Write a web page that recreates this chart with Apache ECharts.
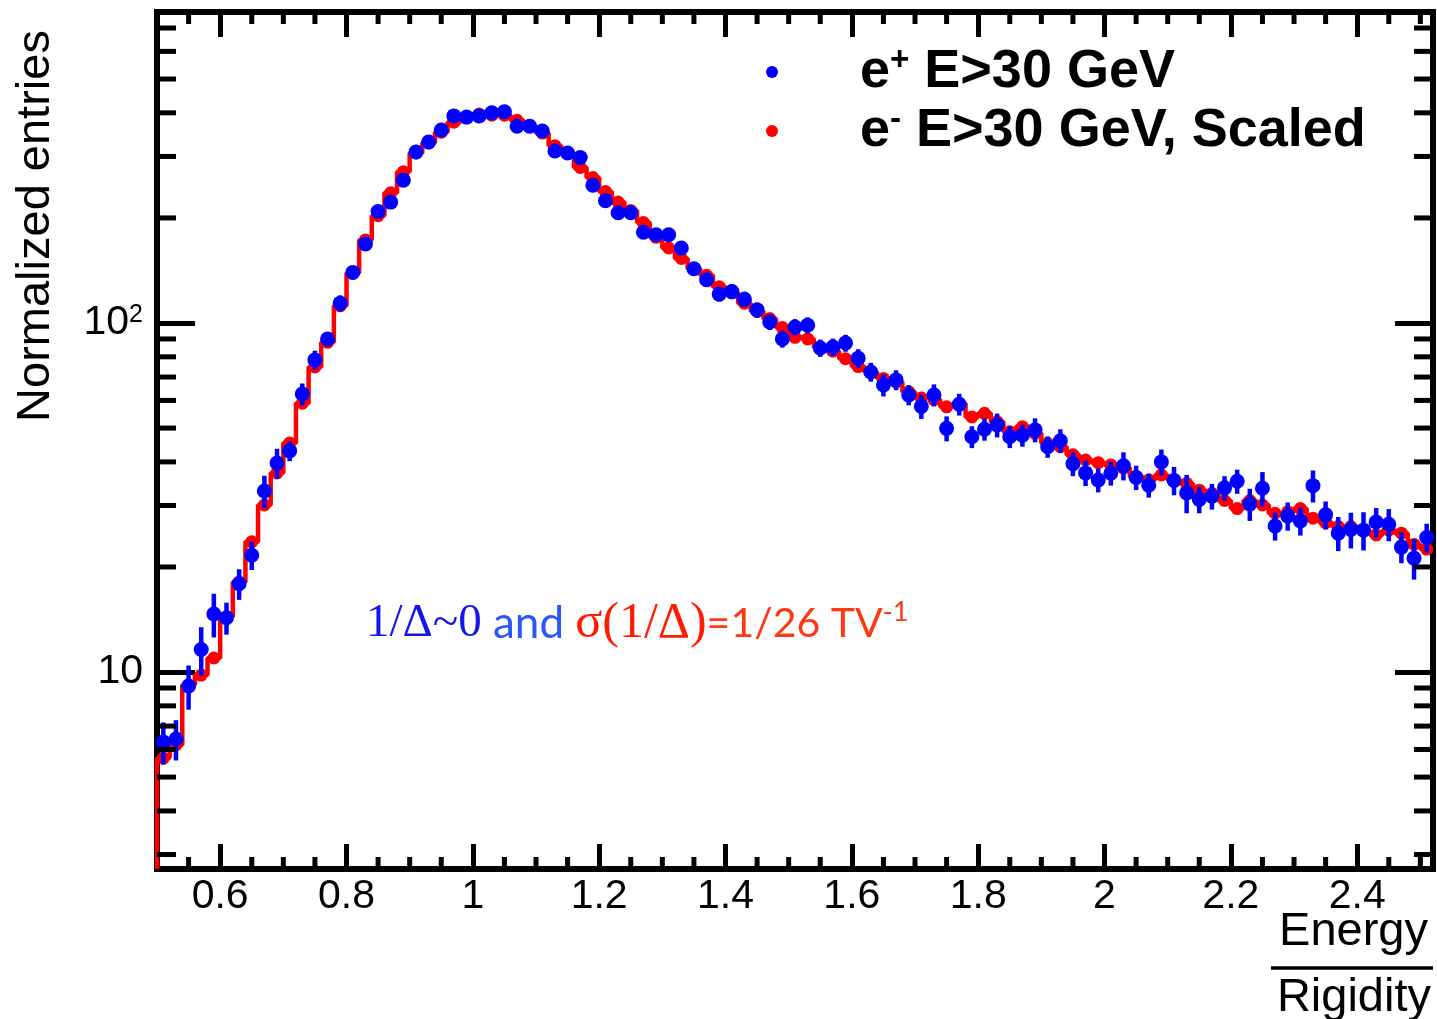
<!DOCTYPE html>
<html>
<head>
<meta charset="utf-8">
<script src="https://cdn.jsdelivr.net/npm/echarts@6/dist/echarts.min.js"></script>
<style>
html,body{margin:0;padding:0;background:#fff;}
#chart{width:1437px;height:1019px;}
</style>
</head>
<body>
<div id="chart"></div>
<script>
// ---- histogram binning (101 bins of width 0.02 starting at 0.5) ----
const binStart = 0.5;
const binWidth = 0.02;

// ---- e+ E>30 GeV (blue points) ----
const positronValues = [
  6.30, 6.43, 9.12, 11.6, 14.66, 14.3, 17.9, 21.6, 33.0, 39.7,
  43.0, 62.6, 78.4, 90.0, 114, 139.6, 168.5, 208.6, 222, 256.6,
  308.8, 330, 357, 392, 389, 392, 400, 403, 366, 366,
  355, 311, 307, 298, 248, 224, 207, 207, 182, 179,
  179, 164, 143, 133, 121, 123, 117, 109, 100.7, 90,
  97.4, 98.6, 84.8, 85.3, 87.6, 79.3, 72.4, 66.4, 68.7, 62.2,
  57.7, 62.2, 49.9, 58.5, 47.2, 49.6, 51.0, 47.2, 47.7, 49.4,
  44.2, 46.0, 39.5, 37.2, 35.5, 37.1, 39.0, 36.1, 34.3, 40.0,
  35.4, 32.6, 31.2, 31.9, 33.7, 35.2, 30.3, 33.6, 26.2, 28.0,
  27.1, 34.2, 28.2, 25.0, 25.6, 25.5, 26.9, 26.5, 22.8, 21.2,
  24.3
];
const positronErrors = [
  0.87, 0.85, 1.32, 1.84, 2.1, 1.5, 1.8, 2.0, 3.5, 3.9,
  2.8, 4.5, 4.9, 4.2, 6.0, 4.6, 5.6, 6.7, 7.1, 7.7,
  9.3, 9.9, 10.7, 11.8, 11.7, 11.8, 12, 12.1, 11, 11.7,
  11.4, 10.6, 10.4, 10.4, 8.9, 8.3, 7.9, 7.9, 7.3, 7.2,
  7.2, 6.9, 6.4, 6.1, 5.8, 5.9, 5.9, 5.5, 5.2, 5.0,
  5.2, 5.2, 4.8, 4.9, 4.9, 4.8, 4.5, 4.8, 4.5, 4.1,
  4.6, 4.5, 4.1, 4.2, 3.4, 3.6, 4.0, 3.4, 3.5, 3.9,
  3.1, 3.6, 3.1, 3.1, 2.8, 2.9, 3.6, 2.9, 2.7, 3.4,
  3.3, 4.1, 2.7, 2.7, 2.7, 2.8, 3.2, 3.8, 2.4, 2.6,
  2.5, 3.6, 2.6, 2.8, 3.0, 3.2, 2.6, 2.8, 2.3, 2.8,
  2.3
];

// ---- e- E>30 GeV, scaled (red histogram) ----
const electronValues = [
  5.67, 6.18, 9.18, 9.8, 10.97, 14.4, 18.1, 23.6, 30.1, 37.2,
  45.3, 58.9, 74.8, 88, 112, 139, 173, 203, 236, 271,
  307, 328, 352, 376, 389, 397, 394, 394, 381, 366,
  350, 322, 307, 279, 261, 238, 222, 210, 194, 176,
  164, 153, 143, 137, 127, 122, 114, 108, 103, 97,
  91, 90, 85, 83, 79, 75, 72.4, 69.3, 67.7, 63.5,
  61.0, 60.3, 57.5, 58.8, 53.8, 55.1, 52.1, 48.8, 50.4, 48.3,
  45.2, 44.2, 41.9, 40.5, 39.8, 39.2, 38.4, 36.3, 35.5, 36.7,
  35.5, 34.7, 33.2, 32.5, 31.0, 29.4, 31.0, 30.1, 28.5, 28.8,
  29.4, 27.6, 26.8, 26.1, 26.1, 25.5, 24.7, 25.5, 25.0, 23.2,
  22.5
];

// ---- axes ----
const xRange = [0.5, 2.52];
const yRange = [2.727, 778];
const xMajorTicks = [0.6, 0.8, 1.0, 1.2, 1.4, 1.6, 1.8, 2.0, 2.2, 2.4];
const xMinorTicks = [0.55, 0.65, 0.7, 0.75, 0.85, 0.9, 0.95, 1.05, 1.1, 1.15, 1.25, 1.3, 1.35,
  1.45, 1.5, 1.55, 1.65, 1.7, 1.75, 1.85, 1.9, 1.95, 2.05, 2.1, 2.15, 2.25, 2.3, 2.35, 2.45, 2.5];
const yMinorTicks = [3, 4, 5, 6, 7, 8, 9, 20, 30, 40, 50, 60, 70, 80, 90, 200, 300, 400, 500, 600, 700];

const seriesNames = ['e+ E>30 GeV', 'e- E>30 GeV, Scaled'];

// ---- derived data for the library ----
const centers = positronValues.map((_, i) => +(binStart + binWidth * (i + 0.5)).toFixed(4));
const positronData = positronValues.map((v, i) => [centers[i], v]);
const positronErrData = positronValues.map((v, i) => [centers[i], v, positronErrors[i]]);
const electronData = electronValues.map((v, i) => [centers[i], v]);
const histOutline = [[binStart, yRange[0]]];
electronValues.forEach((v, i) => {
  const lo = +(binStart + binWidth * i).toFixed(4);
  const hi = +(binStart + binWidth * (i + 1)).toFixed(4);
  histOutline.push([lo, v], [hi, v]);
});
const minorTickData = xMinorTicks.map(v => [v, yRange[0], 0])
  .concat(yMinorTicks.map(v => [xRange[0], v, 1]));

const FONT = 'Liberation Sans';
const BLUE = '#0000ff';
const RED = '#ff0000';

const frameLine = { show: true, onZero: false, lineStyle: { color: '#000', width: 6, cap: 'square' } };

function xAxisDef(pos, showLabel) {
  return {
    type: 'value', position: pos, min: xRange[0], max: xRange[1],
    axisLine: frameLine,
    axisTick: { show: true, inside: true, length: 25, customValues: xMajorTicks,
      lineStyle: { color: '#000', width: 5 } },
    axisLabel: { show: showLabel, customValues: xMajorTicks, margin: 7,
      fontSize: 41, fontFamily: FONT, color: '#000',
      formatter: v => String(Math.round(v * 10) / 10) },
    splitLine: { show: false }, minorTick: { show: false }, minorSplitLine: { show: false }
  };
}
function yAxisDef(pos, showLabel) {
  return {
    type: 'log', logBase: 10, position: pos, min: yRange[0], max: yRange[1],
    axisLine: frameLine,
    axisTick: { show: true, inside: true, length: 38, lineStyle: { color: '#000', width: 5 } },
    axisLabel: { show: showLabel, margin: 14, showMinLabel: false, showMaxLabel: false,
      fontSize: 41, fontFamily: FONT, color: '#000',
      formatter: v => {
        const l = Math.log10(v), e = Math.round(l);
        if (Math.abs(l - e) > 1e-6) return '';
        return e === 1 ? '10' : '10{sup|' + e + '}';
      },
      rich: { sup: { fontSize: 25, fontFamily: FONT, color: '#000', verticalAlign: 'top', padding: [0, 0, 14, 0] } }
    },
    splitLine: { show: false }, minorTick: { show: false }, minorSplitLine: { show: false }
  };
}

const chart = echarts.init(document.getElementById('chart'), null, { renderer: 'canvas' });
chart.setOption({
  animation: false,
  backgroundColor: '#ffffff',
  grid: { left: 157, top: 12, width: 1276, height: 857, containLabel: false, outerBoundsMode: 'none' },
  xAxis: [xAxisDef('bottom', true), xAxisDef('top', false)],
  yAxis: [yAxisDef('left', true), yAxisDef('right', false)],
  legend: {
    orient: 'vertical', left: 761, top: 39, itemWidth: 166, itemHeight: 12, itemGap: 4,
    icon: 'circle', selectedMode: false,
    data: [
      { name: seriesNames[0], itemStyle: { color: BLUE, borderWidth: 0 } },
      { name: seriesNames[1], itemStyle: { color: RED, borderWidth: 0 } }
    ],
    formatter: name => name === seriesNames[0]
      ? '{b|e}{s|+}{b| E>30 GeV}'
      : '{b|e}{s|-}{b| E>30 GeV, Scaled}',
    textStyle: {
      rich: {
        b: { fontSize: 54, fontWeight: 'bold', fontFamily: FONT, color: '#000', lineHeight: 56 },
        s: { fontSize: 33, fontWeight: 'bold', fontFamily: FONT, color: '#000', verticalAlign: 'top', lineHeight: 30 }
      }
    }
  },
  graphic: [
    { type: 'text', x: 36, y: 226, rotation: Math.PI / 2, silent: true,
      style: { text: 'Normalized entries', fontSize: 47, fontFamily: FONT, fill: '#000',
        align: 'center', verticalAlign: 'middle' } },
    { type: 'text', x: 1428, y: 932, silent: true,
      style: { text: 'Energy', fontSize: 47, fontFamily: FONT, fill: '#000', align: 'right', verticalAlign: 'middle' } },
    { type: 'line', silent: true, shape: { x1: 1271, y1: 968, x2: 1433, y2: 968 },
      style: { stroke: '#000', lineWidth: 3.5 } },
    { type: 'text', x: 1431, y: 998, silent: true,
      style: { text: 'Rigidity', fontSize: 47, fontFamily: FONT, fill: '#000', align: 'right', verticalAlign: 'middle' } },
    { type: 'text', x: 366, y: 624, silent: true,
      style: {
        text: '{a|1/Δ~0}{b| and }{c|σ(1/Δ)}{d|=1/26 TV}{e|-1}',
        align: 'left', verticalAlign: 'middle',
        rich: {
          a: { fontSize: 47, fontFamily: 'Liberation Serif', fill: '#1414f0' },
          b: { fontSize: 44, fontFamily: 'Lato', fill: '#2a55ff' },
          c: { fontSize: 50, fontFamily: 'Liberation Serif', fill: '#ff1a00' },
          d: { fontSize: 41, fontFamily: 'Lato', fill: '#ff3814' },
          e: { fontSize: 27, fontFamily: 'Lato', fill: '#ff3814', verticalAlign: 'top' }
        }
      } }
  ],
  series: [
    { name: 'e- histogram', type: 'line', data: histOutline, showSymbol: false, symbol: 'none',
      lineStyle: { color: RED, width: 4.5 }, itemStyle: { color: RED }, silent: true, z: 2 },
    { name: seriesNames[1], type: 'scatter', data: electronData, symbol: 'circle', symbolSize: 13,
      itemStyle: { color: RED, opacity: 1 }, silent: true, z: 3 },
    { name: 'e+ errors', type: 'custom', data: positronErrData, silent: true, z: 4,
      dimensions: ['x', 'y', 'err'], encode: { x: 0, y: 1 },
      renderItem: (params, api) => {
        const x = api.value(0), v = api.value(1), e = api.value(2);
        const p1 = api.coord([x, v - e]), p2 = api.coord([x, v + e]);
        return { type: 'line', shape: { x1: p1[0], y1: p1[1], x2: p2[0], y2: p2[1] },
          style: { stroke: BLUE, lineWidth: 4.5 } };
      } },
    { name: seriesNames[0], type: 'scatter', data: positronData, symbol: 'circle', symbolSize: 15,
      itemStyle: { color: BLUE, opacity: 1 }, silent: true, z: 5 },
    { name: 'minor ticks', type: 'custom', data: minorTickData, silent: true, z: 6,
      dimensions: ['x', 'y', 'kind'], encode: { x: 0, y: 1 },
      renderItem: (params, api) => {
        const a = api.value(0), b = api.value(1), kind = api.value(2);
        const st = { stroke: '#000', lineWidth: 5 };
        if (kind === 0) {
          const bot = api.coord([a, yRange[0]]), top = api.coord([a, yRange[1]]);
          return { type: 'group', children: [
            { type: 'line', shape: { x1: bot[0], y1: bot[1], x2: bot[0], y2: bot[1] - 12 }, style: st },
            { type: 'line', shape: { x1: top[0], y1: top[1], x2: top[0], y2: top[1] + 12 }, style: st }
          ] };
        }
        const l = api.coord([xRange[0], b]), r = api.coord([xRange[1], b]);
        return { type: 'group', children: [
          { type: 'line', shape: { x1: l[0], y1: l[1], x2: l[0] + 19, y2: l[1] }, style: st },
          { type: 'line', shape: { x1: r[0], y1: r[1], x2: r[0] - 19, y2: r[1] }, style: st }
        ] };
      } }
  ]
});
</script>
</body>
</html>
